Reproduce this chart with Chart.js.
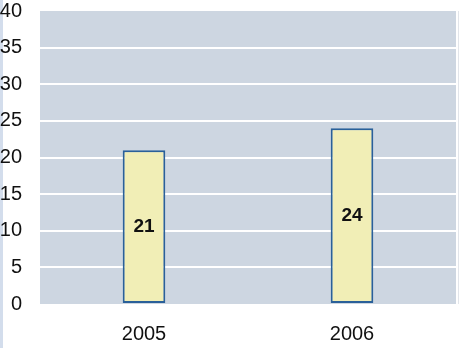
<!DOCTYPE html>
<html>
<head>
<meta charset="utf-8">
<script src="https://cdn.jsdelivr.net/npm/chart.js@4/dist/chart.umd.min.js"></script>
<style>
  html, body { margin: 0; padding: 0; background: #fff; }
  #wrap { width: 465px; height: 348px; position: relative; }
</style>
</head>
<body>
<div id="wrap"><canvas id="chart" width="465" height="348"></canvas></div>
<script>
// chart data
const years = ['2005', '2006'];
const values = [21, 24];
const yMin = 0;
const yMax = 40;
const yStep = 5;

// plot background, left strip and right edge line
const plotBackground = {
  id: 'plotBackground',
  beforeDraw(chart) {
    const { ctx, chartArea: a } = chart;
    ctx.save();
    ctx.fillStyle = '#cdd6e1';
    ctx.fillRect(a.left, a.top, a.right - a.left, a.bottom - a.top);
    ctx.fillStyle = '#d3ddec';
    ctx.fillRect(0, 0, 3, chart.height);
    ctx.fillStyle = '#e2e5ea';
    ctx.fillRect(a.right + 2, a.top, 1, a.bottom - a.top);
    ctx.restore();
  }
};

// value labels in the middle of each bar
const barLabels = {
  id: 'barLabels',
  afterDatasetsDraw(chart) {
    const { ctx } = chart;
    const meta = chart.getDatasetMeta(0);
    ctx.save();
    ctx.font = 'bold 19px "Liberation Sans", Arial, sans-serif';
    ctx.fillStyle = '#111';
    ctx.textAlign = 'center';
    ctx.textBaseline = 'middle';
    meta.data.forEach((bar, i) => {
      const mid = (bar.y + bar.base) / 2;
      ctx.fillText(String(values[i]), bar.x, mid);
    });
    ctx.restore();
  }
};

new Chart(document.getElementById('chart'), {
  type: 'bar',
  data: {
    labels: years,
    datasets: [{
      data: values,
      backgroundColor: '#f1eeb6',
      borderColor: '#2a6099',
      borderWidth: 2,
      borderSkipped: false,
      categoryPercentage: 1,
      barPercentage: 0.205
    }]
  },
  options: {
    responsive: false,
    animation: false,
    layout: { padding: { left: 0, right: 9, top: 11, bottom: 0 } },
    plugins: {
      legend: { display: false },
      tooltip: { enabled: false }
    },
    scales: {
      x: {
        grid: { display: false },
        border: { display: false },
        ticks: {
          color: '#111',
          padding: 10,
          font: { family: '"Liberation Sans", Arial, sans-serif', size: 20 }
        },
        afterFit(scale) { scale.height = 44; scale.paddingLeft = 0; scale.paddingRight = 0; }
      },
      y: {
        min: yMin,
        max: yMax,
        border: { display: false },
        grid: {
          drawTicks: false,
          lineWidth: 2,
          color: ctx => (ctx.tick.value === yMin || ctx.tick.value === yMax) ? 'rgba(0,0,0,0)' : '#ffffff'
        },
        ticks: {
          stepSize: yStep,
          color: '#111',
          padding: 18,
          font: { family: '"Liberation Sans", Arial, sans-serif', size: 20 }
        },
        afterFit(scale) { scale.width = 40; scale.paddingTop = 0; scale.paddingBottom = 0; }
      }
    }
  },
  plugins: [plotBackground, barLabels]
});
</script>
</body>
</html>
